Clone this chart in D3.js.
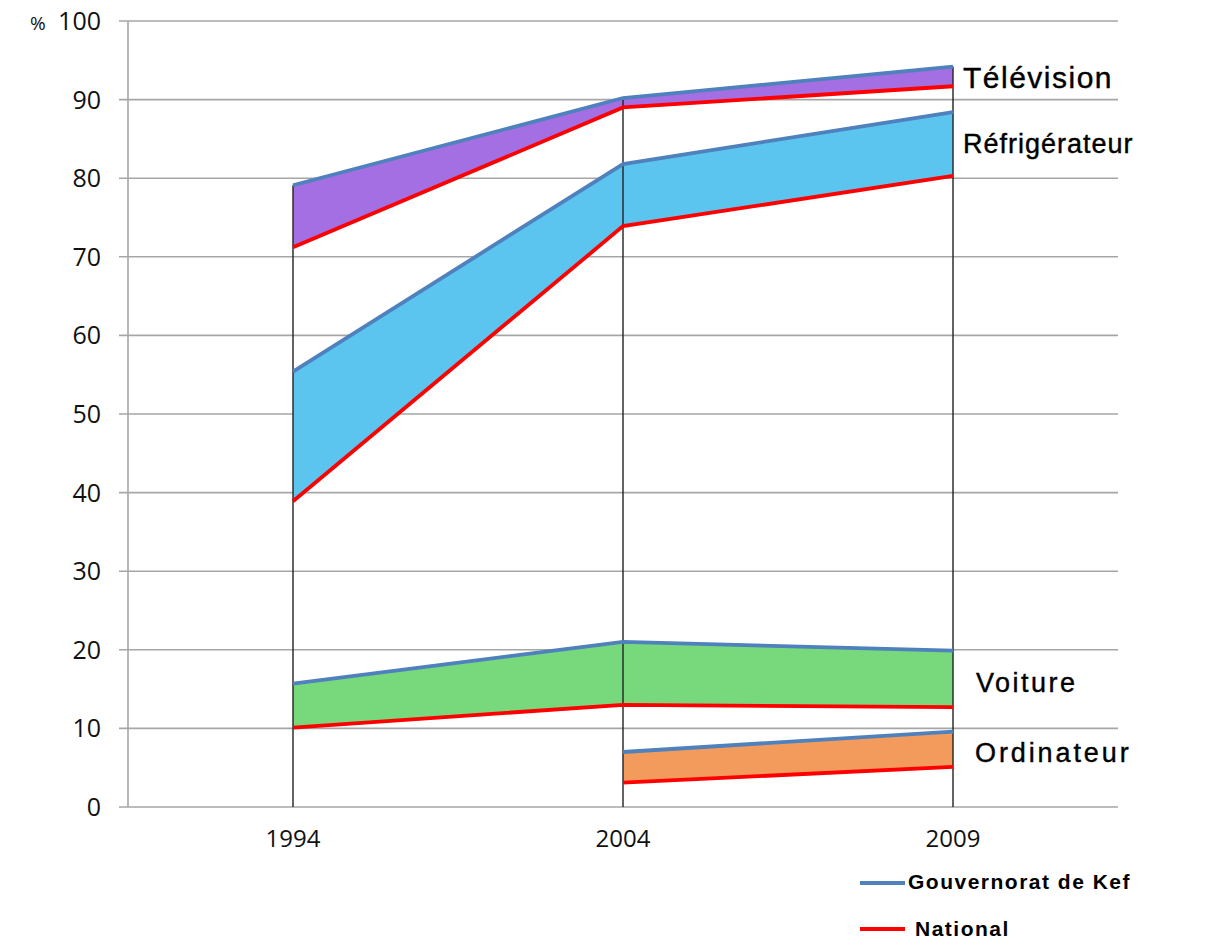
<!DOCTYPE html>
<html><head><meta charset="utf-8">
<script src="https://cdn.jsdelivr.net/npm/d3@7"></script>
<style>body{margin:0;background:#fff}</style>
</head><body>
<svg id="c" width="1210" height="942"></svg>
<script>
const years = ["1994","2004","2009"];
const categories = ["Télévision","Réfrigérateur","Voiture","Ordinateur"];
const kefValues = [
  [79.1, 90.2, 94.2],
  [55.4, 81.8, 88.4],
  [15.7, 21.0, 19.9],
  [null, 7.0, 9.6]
];
const nationalValues = [
  [71.2, 89.0, 91.7],
  [38.9, 73.9, 80.3],
  [10.1, 13.0, 12.7],
  [null, 3.1, 5.1]
];
const fillColors = ["#a46fe2","#5bc5f0","#77d97c","#f39b5c"];
const yTicks = [0,10,20,30,40,50,60,70,80,90,100];
const legendLabels = ["Gouvernorat de Kef","National"];

const svg = d3.select("#c");
const y = d3.scaleLinear().domain([0,100]).range([807,21]);
const x = d3.scalePoint().domain(years).range([293,953]);

// gridlines
svg.append("g").selectAll("line").data(yTicks).join("line")
  .attr("x1",119).attr("x2",1118)
  .attr("y1",d=>y(d)).attr("y2",d=>y(d))
  .attr("stroke","#a6a6a6").attr("stroke-width",1.6);
svg.append("line").attr("x1",128).attr("x2",128).attr("y1",y(100)).attr("y2",y(0))
  .attr("stroke","#a6a6a6").attr("stroke-width",1.6);

// y tick labels
svg.append("g").selectAll("text").data(yTicks).join("text")
  .attr("x",101).attr("y",d=>y(d)+9)
  .attr("text-anchor","end").attr("font-family","Open Sans, Lato, sans-serif")
  .attr("font-size",25).attr("fill","#111").text(d=>d);
svg.append("text").attr("x",30).attr("y",y(100)+9).attr("font-family","Open Sans, sans-serif")
  .attr("font-size",19).attr("fill","#111").text("%");

// x labels
svg.append("g").selectAll("text").data(years).join("text")
  .attr("x",d=>x(d)).attr("y",847).attr("text-anchor","middle")
  .attr("font-family","Open Sans, Lato, sans-serif").attr("font-size",24).attr("fill","#111").text(d=>d);

// areas
const area = d3.area().defined(d=>d.k!=null).x(d=>x(d.yr)).y0(d=>y(d.n)).y1(d=>y(d.k));
const line = d3.line().defined(d=>d.v!=null).x(d=>x(d.yr)).y(d=>y(d.v));
categories.forEach((c,i)=>{
  const pts = years.map((yr,j)=>({yr, k:kefValues[i][j], n:nationalValues[i][j]}));
  svg.append("path").attr("d",area(pts)).attr("fill",fillColors[i]);
});

// vertical black lines at each year up to the highest value
years.forEach((yr,j)=>{
  const mx = d3.max(kefValues, r=>r[j]);
  svg.append("line").attr("x1",x(yr)).attr("x2",x(yr)).attr("y1",y(mx)).attr("y2",y(0))
    .attr("stroke","#222").attr("stroke-width",1.4);
});

categories.forEach((c,i)=>{
  svg.append("path").attr("d",line(years.map((yr,j)=>({yr,v:nationalValues[i][j]}))))
    .attr("fill","none").attr("stroke","#ff0000").attr("stroke-width",3.8);
  svg.append("path").attr("d",line(years.map((yr,j)=>({yr,v:kefValues[i][j]}))))
    .attr("fill","none").attr("stroke","#4f81bd").attr("stroke-width",3.8);
});

// category labels: [x, baseline, size, spacing]
const labelStyle = [[963,88,30,1.5],[963,153,27,1.0],[976,692,27,2.5],[975,762,27,2.9]];
categories.forEach((c,i)=>{
  const s = labelStyle[i];
  svg.append("text").attr("x",s[0]).attr("y",s[1])
    .attr("font-family","Liberation Sans, Arial, sans-serif").attr("font-size",s[2])
    .attr("letter-spacing",s[3]).attr("fill","#000")
    .attr("stroke","#000").attr("stroke-width",0.4).text(c);
});

// legend
const legColors = ["#4f81bd","#ff0000"];
const legY = [883,929];
const legBase = [889,936];
const legTx = [908,915];
legendLabels.forEach((l,i)=>{
  svg.append("line").attr("x1",860).attr("x2",905).attr("y1",legY[i]).attr("y2",legY[i])
    .attr("stroke",legColors[i]).attr("stroke-width",4);
  svg.append("text").attr("x",legTx[i]).attr("y",legBase[i])
    .attr("font-family","Liberation Sans, Arial, sans-serif").attr("font-size",21)
    .attr("font-weight","bold").attr("letter-spacing",1.5).attr("fill","#000").text(l);
});
</script>
</body></html>
